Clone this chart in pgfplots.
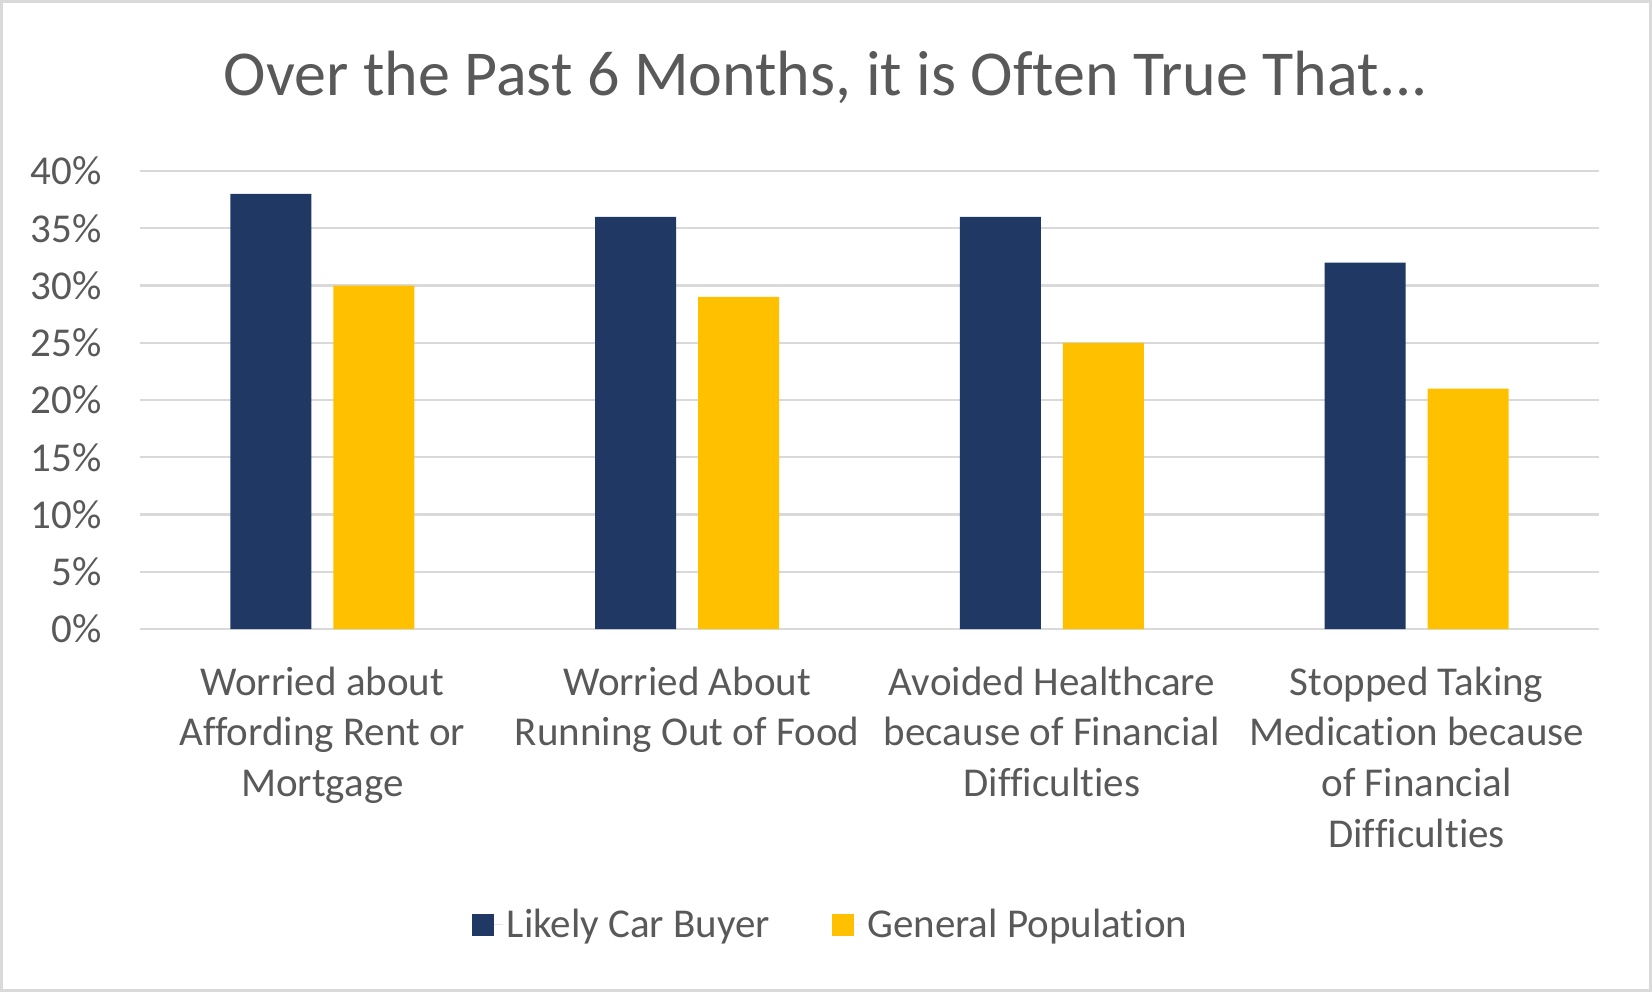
\documentclass[border=0pt]{standalone}
\usepackage{fontspec}
\setmainfont{Carlito}[Ligatures=NoCommon]
\usepackage{pgfplots}
\pgfplotsset{compat=1.18}
\definecolor{navy}{HTML}{203864}
\definecolor{gold}{HTML}{FFC000}
\definecolor{txt}{HTML}{595959}
\definecolor{grd}{HTML}{D9D9D9}
\begin{document}
\begin{tikzpicture}
\useasboundingbox (-70pt,-181.5pt) rectangle (756pt,314.5pt);
\draw[grd, line width=1.5pt] (-69.25pt,-180.75pt) rectangle (755.25pt,313.75pt);
\begin{axis}[
    at={(0,0)}, anchor=south west,
    scale only axis,
    width=729.5pt, height=229pt,
    ybar, bar width=40.5pt, ybar=11pt,
    xmin=-0.5, xmax=3.5, ymin=0, ymax=40,
    xtick={0,1,2,3},
    xticklabels={{Worried about\\Affording Rent or\\Mortgage},
                 {Worried About\\Running Out of Food},
                 {Avoided Healthcare\\because of Financial\\Difficulties},
                 {Stopped Taking\\Medication because\\of Financial\\Difficulties}},
    ytick={0,5,...,40},
    yticklabels={0\%,5\%,10\%,15\%,20\%,25\%,30\%,35\%,40\%},
    axis line style={draw=none},
    tick style={draw=none},
    ymajorgrids,
    major grid style={grd, line width=1.1pt},
    ticklabel style={font=\fontsize{20.5}{25.3}\selectfont, text=txt},
    yticklabel style={inner sep=0pt, xshift=-19pt},
    xticklabel style={align=center, inner sep=0pt, yshift=-14.4pt},
    title={Over the Past 6 Months, it is Often True That...},
    title style={at={(0.470,1.179)}, anchor=center,
                 font=\fontsize{32}{38}\selectfont, text=txt},
    legend image code/.code={\fill[#1] (0pt,-5.5pt) rectangle (11pt,5.5pt);
                             \path (0pt,0pt) -- (15.5pt,0pt);},
    legend style={at={(0.474,-0.646)}, anchor=center, draw=none, fill=none,
                  font=\fontsize{20.5}{25.3}\selectfont, text=txt,
                  legend columns=-1,
                  /tikz/every even column/.append style={column sep=29pt}},
    clip=false,
]
\addplot[fill=navy, draw=none] coordinates {(0,38) (1,36) (2,36) (3,32)};
\addplot[fill=gold, draw=none] coordinates {(0,30) (1,29) (2,25) (3,21)};
\legend{Likely Car Buyer, General Population}
\end{axis}
\end{tikzpicture}
\end{document}
